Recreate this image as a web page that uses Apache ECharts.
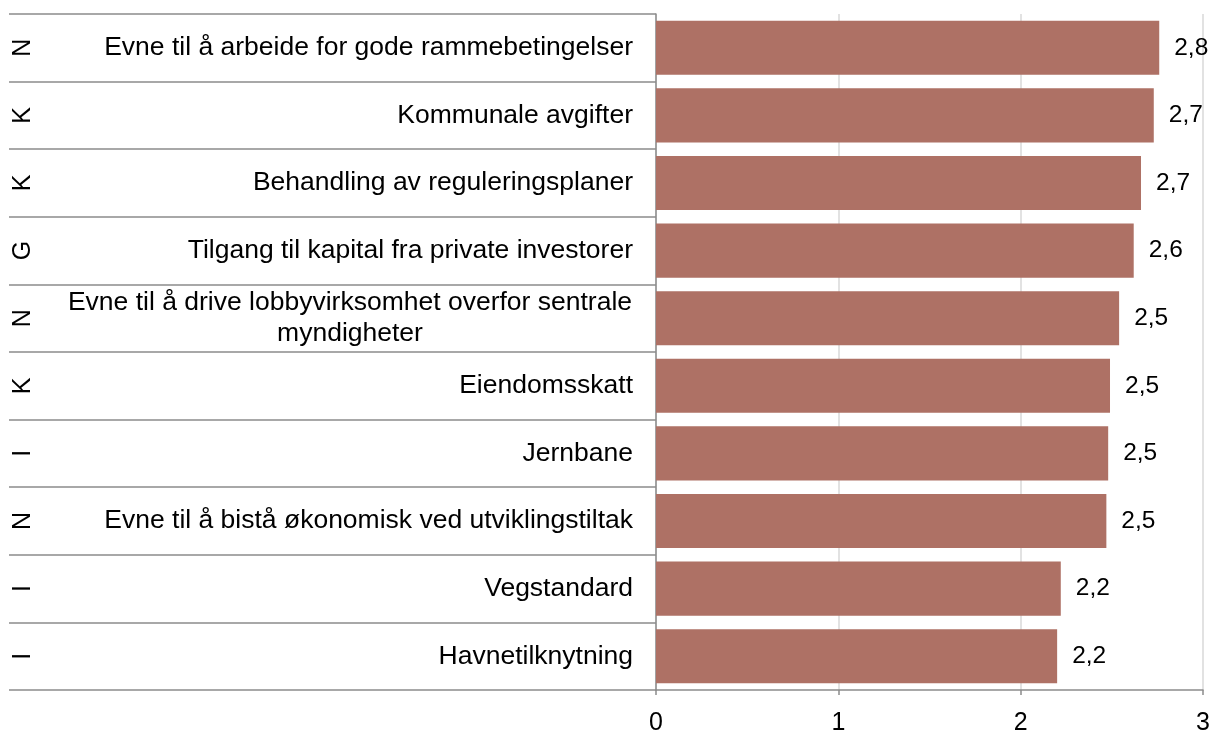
<!DOCTYPE html>
<html>
<head>
<meta charset="utf-8">
<script src="https://cdn.jsdelivr.net/npm/echarts@6/dist/echarts.min.js"></script>
<style>
  html, body { margin: 0; padding: 0; background: #fff; }
  #chart { width: 1215px; height: 733px; }
</style>
</head>
<body>
<div id="chart"></div>
<script>
var categories = [
    'Evne til å arbeide for gode rammebetingelser',
    'Kommunale avgifter',
    'Behandling av reguleringsplaner',
    'Tilgang til kapital fra private investorer',
    'Evne til å drive lobbyvirksomhet overfor sentrale\nmyndigheter',
    'Eiendomsskatt',
    'Jernbane',
    'Evne til å bistå økonomisk ved utviklingstiltak',
    'Vegstandard',
    'Havnetilknytning'
];
var groups = ['N', 'K', 'K', 'G', 'N', 'K', 'I', 'N', 'I', 'I'];
var values = [2.76, 2.73, 2.66, 2.62, 2.54, 2.49, 2.48, 2.47, 2.22, 2.2];
var xTicks = [0, 1, 2, 3];

var dom = document.getElementById('chart');
var myChart = echarts.init(dom);
var font = 'Liberation Sans, Arial, sans-serif';

var option = {
    animation: false,
    grid: {
        left: 656,
        right: 12,
        top: 14,
        bottom: 43,
        containLabel: false,
        outerBoundsMode: 'none'
    },
    xAxis: {
        type: 'value',
        min: xTicks[0],
        max: xTicks[xTicks.length - 1],
        interval: 1,
        axisLine: { show: true, lineStyle: { color: '#8c8c8c', width: 1.5 } },
        axisTick: { show: true, length: 5, lineStyle: { color: '#8c8c8c', width: 1.5 } },
        splitLine: { show: true, lineStyle: { color: '#d9d9d9', width: 1.5 } },
        axisLabel: {
            color: '#000',
            fontSize: 25,
            fontFamily: font,
            margin: 21
        }
    },
    yAxis: [
        {
            type: 'category',
            inverse: true,
            data: categories,
            axisLine: { show: true, lineStyle: { color: '#8c8c8c', width: 1.5 } },
            axisTick: {
                show: true,
                inside: false,
                length: 647,
                lineStyle: { color: '#8c8c8c', width: 1.5 }
            },
            axisLabel: {
                color: '#000',
                fontSize: 26.5,
                fontFamily: font,
                margin: 23,
                lineHeight: 31,
                formatter: function (v) {
                    if (v.indexOf('\n') >= 0) {
                        var parts = v.split('\n');
                        return parts.map(function (p) { return '{c|' + p + '}'; }).join('\n');
                    }
                    return v;
                },
                rich: {
                    c: {
                        width: 566,
                        align: 'center',
                        fontSize: 26.5,
                        fontFamily: font,
                        lineHeight: 31,
                        color: '#000'
                    }
                }
            }
        },
        {
            type: 'category',
            inverse: true,
            position: 'left',
            offset: 600,
            data: groups,
            axisLine: { show: false },
            axisTick: { show: false },
            axisLabel: {
                color: '#000',
                fontSize: 25,
                fontFamily: font,
                rotate: 90,
                margin: 20
            }
        }
    ],
    series: [
        {
            type: 'bar',
            data: values,
            barCategoryGap: '20%',
            itemStyle: { color: '#ae7165' },
            label: {
                show: true,
                position: 'right',
                distance: 15,
                color: '#000',
                fontSize: 24.5,
                fontFamily: font,
                formatter: function (p) {
                    return p.value.toFixed(1).replace('.', ',');
                }
            }
        }
    ]
};

myChart.setOption(option);
</script>
</body>
</html>
